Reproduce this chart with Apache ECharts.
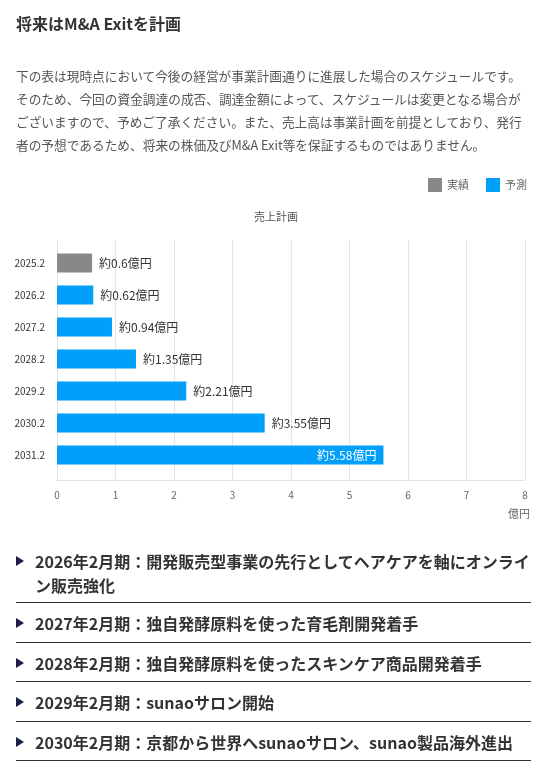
<!DOCTYPE html>
<html>
<head>
<meta charset="utf-8">
<script src="https://cdn.jsdelivr.net/npm/echarts@6/dist/echarts.min.js"></script>
<style>
  html, body { margin: 0; padding: 0; background: #fff; }
  body { width: 552px; height: 776px; position: relative; overflow: hidden;
         font-family: "Noto Sans CJK JP", "Noto Sans", sans-serif; }
  #chart { position: absolute; left: 0; top: 0; width: 552px; height: 776px; z-index: 0; }
  .txt { position: absolute; z-index: 1; }
  #title { left: 16px; top: 11px; font-size: 16px; line-height: 24px; font-weight: bold; color: #333; }
  #para { left: 16px; top: 63.5px; font-size: 12.7px; line-height: 23.2px; color: #555; white-space: nowrap; }
  #list { left: 16px; top: 541px; width: 515px; margin: 0; padding: 0; list-style: none; }
  #list li { position: relative; padding: 8px 0 6.5px 19px; font-size: 16px; line-height: 24px;
             font-weight: bold; color: #333; border-bottom: 1px solid #333; white-space: nowrap; }
  #list li:first-child { padding-top: 8px; padding-bottom: 5px; }
  #list li::before { content: ""; position: absolute; left: 0; top: 15px; width: 0; height: 0;
             border-left: 8px solid #1c1f4a; border-top: 5px solid transparent; border-bottom: 5px solid transparent; }
</style>
</head>
<body>
<div id="chart"></div>
<div class="txt" id="title">将来はM&amp;A Exitを計画</div>
<div class="txt" id="para">下の表は現時点において今後の経営が事業計画通りに進展した場合のスケジュールです。<br>そのため、今回の資金調達の成否、調達金額によって、スケジュールは変更となる場合が<br>ございますので、予めご了承ください。また、売上高は事業計画を前提としており、発行<br>者の予想であるため、将来の株価及びM&amp;A Exit等を保証するものではありません。</div>
<ul class="txt" id="list">
  <li>2026年2月期：開発販売型事業の先行としてヘアケアを軸にオンライ<br>ン販売強化</li>
  <li>2027年2月期：独自発酵原料を使った育毛剤開発着手</li>
  <li>2028年2月期：独自発酵原料を使ったスキンケア商品開発着手</li>
  <li>2029年2月期：sunaoサロン開始</li>
  <li>2030年2月期：京都から世界へsunaoサロン、sunao製品海外進出</li>
</ul>
<script>
const categories = ['2025.2', '2026.2', '2027.2', '2028.2', '2029.2', '2030.2', '2031.2'];
const seriesNames = ['実績', '予測'];
const actualValues = [0.6, null, null, null, null, null, null];
const forecastValues = [null, 0.62, 0.94, 1.35, 2.21, 3.55, 5.58];
const xMin = 0, xMax = 8, xStep = 1;
const chartTitle = '売上計画';
const xUnit = '億円';

const FONT = '"Noto Sans CJK JP", "Noto Sans", sans-serif';
const maxForecast = Math.max(...forecastValues.filter(v => v != null));

function toData(arr) {
  return arr.map(v => {
    if (v == null) return '-';
    if (v === maxForecast) {
      return { value: v, label: { position: 'insideRight', color: '#fff', distance: 7 } };
    }
    return v;
  });
}

const labelCfg = {
  show: true,
  position: 'right',
  distance: 7,
  fontSize: 12,
  color: '#333',
  fontFamily: FONT,
  formatter: p => '約' + p.value + xUnit
};

const chart = echarts.init(document.getElementById('chart'), null, { renderer: 'canvas' });
chart.setOption({
  animation: false,
  textStyle: { fontFamily: FONT },
  title: {
    text: chartTitle,
    left: 'center',
    top: 211,
    padding: 0,
    textStyle: { fontSize: 11, fontWeight: 'normal', color: '#555', fontFamily: FONT }
  },
  legend: {
    data: seriesNames,
    right: 25,
    top: 178,
    padding: 0,
    icon: 'rect',
    itemWidth: 14,
    itemHeight: 14,
    itemGap: 17,
    textStyle: { fontSize: 11, color: '#666', fontFamily: FONT }
  },
  grid: [
    { left: 57, right: 27, top: 240, bottom: 296 },
    { left: 57, right: 27, top: 247, height: 224 }
  ],
  xAxis: [
    {
      gridIndex: 0, type: 'value', min: xMin, max: xMax, interval: xStep,
      axisLine: { show: true, lineStyle: { color: '#e3e3e3' } },
      axisTick: { show: false },
      splitLine: { show: true, lineStyle: { color: '#e6e6e6' } },
      axisLabel: { fontSize: 10, color: '#666', margin: 10, fontFamily: FONT },
      name: xUnit,
      nameLocation: 'end',
      nameGap: 5,
      nameTextStyle: { fontSize: 11, color: '#666', align: 'right', verticalAlign: 'top',
                       padding: [28, 0, 0, 0], fontFamily: FONT }
    },
    { gridIndex: 1, type: 'value', min: xMin, max: xMax, show: false }
  ],
  yAxis: [
    { gridIndex: 0, type: 'category', data: categories, show: false },
    {
      gridIndex: 1, type: 'category', data: categories, inverse: true,
      axisLine: { show: false },
      axisTick: { show: false },
      splitLine: { show: false },
      axisLabel: { fontSize: 10, color: '#333', margin: 12, fontFamily: FONT }
    }
  ],
  series: [
    {
      name: seriesNames[0], type: 'bar', xAxisIndex: 1, yAxisIndex: 1,
      barWidth: 19, barGap: '-100%',
      itemStyle: { color: '#888888' },
      label: labelCfg,
      data: toData(actualValues)
    },
    {
      name: seriesNames[1], type: 'bar', xAxisIndex: 1, yAxisIndex: 1,
      barWidth: 19, barGap: '-100%',
      itemStyle: { color: '#00a0fa' },
      label: labelCfg,
      data: toData(forecastValues)
    }
  ]
});
</script>
</body>
</html>
